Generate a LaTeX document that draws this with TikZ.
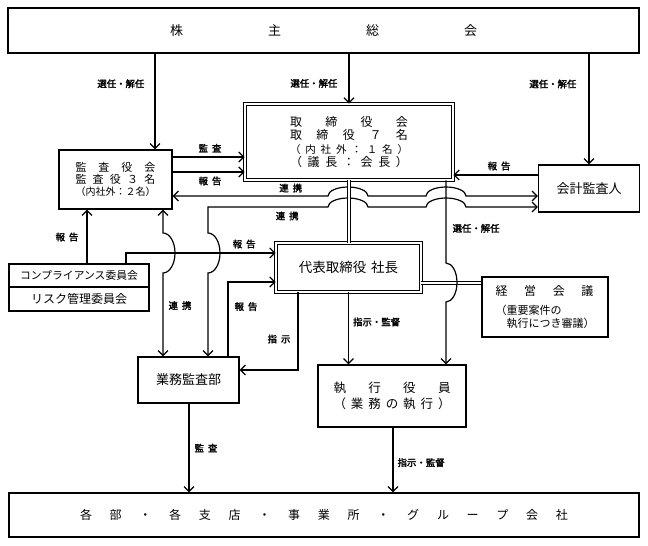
\documentclass[tikz,border=0pt]{standalone}
\usepackage{fontspec}
\setmainfont{Noto Sans CJK JP}
\newfontfamily\lblfont{Noto Sans CJK JP}[FakeBold=2.2]
\usetikzlibrary{arrows.meta}
\newcommand{\lblgap}{\hspace{4pt}}

\begin{document}
\begin{tikzpicture}[x=1pt, y=-1pt,
  box/.style={draw, line width=1.2pt, inner sep=0pt, align=center},
  dbox/.style={draw, double, double distance=1.4pt, line width=0.9pt, inner sep=0pt, align=center},
  lbl/.style={font=\lblfont\fontsize{9.4}{10}\selectfont, inner sep=0pt},
  arr/.style={line width=1.2pt, -{Straight Barb[length=5pt,width=10pt]}},
  barr/.style={line width=1.2pt, {Straight Barb[length=5pt,width=10pt]}-{Straight Barb[length=5pt,width=10pt]}},
  dline/.style={double, double distance=1.6pt, line width=0.8pt}]

\useasboundingbox (0,0) rectangle (648,546);

\node[box, line width=2.5pt, minimum width=631pt, minimum height=45pt, font=\fontsize{13}{15}\selectfont] (agm) at (323.5,30.5)
  {\makebox[307pt]{株\hfill 主\hfill 総\hfill 会}};

\node[dbox, minimum width=208pt, minimum height=76pt, font=\fontsize{12}{13.3}\selectfont] (board) at (349,142)
  {\makebox[118pt]{取\hfill 締\hfill 役\hfill 会}\\
   \makebox[118pt]{取\hfill 締\hfill 役\hfill ７\hfill 名}\\
   \fontsize{10.5}{13.3}\selectfont\makebox[118pt]{（\hfill 内\hfill 社\hfill 外\hfill ：\hfill １\hfill 名\hfill ）}\\
   \makebox[118pt]{（\hfill 議\hfill 長\hfill ：\hfill 会\hfill 長\hfill ）}};

\node[box, minimum width=113pt, minimum height=59pt, font=\fontsize{11}{12}\selectfont] (audit) at (115.5,179.5)
  {\makebox[80pt]{監\hfill 査\hfill 役\hfill 会}\\
   \makebox[80pt]{監\hfill 査\hfill 役\hfill ３\hfill 名}\\
   \fontsize{10}{12}\selectfont\makebox[80pt]{（内社外：２名）}};

\node[box, minimum width=101pt, minimum height=47pt, font=\fontsize{13}{15}\selectfont] (auditor) at (589,188.5) {会計監査人};

\node[dbox, minimum width=145pt, minimum height=49pt, font=\fontsize{13.5}{15}\selectfont] (ceo) at (348.5,267.5) {代表取締役\hspace{5pt}社長};

\node[box, minimum width=126pt, minimum height=60pt, align=left, font=\fontsize{11}{13}\selectfont] (meeting) at (545,307)
  {{\fontsize{12}{13}\selectfont\makebox[98pt]{経\hfill 営\hfill 会\hfill 議}}\\[6pt]
   （重要案件の\\
   \hspace*{11pt}執行につき審議）};

\node[box, minimum width=148pt, minimum height=62pt, font=\fontsize{12.5}{16}\selectfont] (officers) at (392,396)
  {\makebox[117pt]{執\hfill 行\hfill 役\hfill 員}\\
   \makebox[117pt]{（\hfill 業\hfill 務\hfill の\hfill 執\hfill 行\hfill ）}};

\node[box, minimum width=101pt, minimum height=46pt, font=\fontsize{13}{15}\selectfont] (internal) at (188.5,380) {業務監査部};

\node[box, minimum width=140pt, minimum height=23pt, font=\fontsize{10.8}{12}\selectfont] (comp) at (79,275.5) {コンプライアンス委員会};
\node[box, minimum width=140pt, minimum height=24pt, font=\fontsize{12}{13}\selectfont] (risk) at (79,299) {リスク管理委員会};

\node[box, minimum width=630pt, minimum height=44pt, font=\fontsize{12}{14}\selectfont] (bottom) at (324,515)
  {\makebox[488pt]{各\hfill 部\hfill ・\hfill 各\hfill 支\hfill 店\hfill ・\hfill 事\hfill 業\hfill 所\hfill ・\hfill グ\hfill ル\hfill ー\hfill プ\hfill 会\hfill 社}};

% 株主総会から
\path[arr] (agm.south -| 155,0) edge node[lbl, left=10pt, pos=.31] {選任・解任} (audit.north -| 155,0);
\path[arr] (agm.south -| board.north) edge node[lbl, left=11pt, pos=.59] {選任・解任} (board.north);
\path[arr] (agm.south -| auditor.north) edge node[lbl, left=12pt, pos=.27] {選任・解任} (auditor.north);

% 監査役会と取締役会
\path[arr] (audit.east |- 0,157) edge node[lbl, above=4pt, pos=.52] {監\lblgap 査} (board.west |- 0,157);
\path[arr] (audit.east |- 0,172) edge node[lbl, below=4pt, pos=.52] {報\lblgap 告} (board.west |- 0,172);
\path[arr] (auditor.west |- 0,175) edge node[lbl, above=4pt, pos=.46] {報\lblgap 告} (board.east |- 0,175);

% 連携
\draw[barr] (audit.east |- 0,196) -- node[lbl, above=3pt, pos=.76] {連\lblgap 携} (328,196)
  arc[start angle=180, end angle=360, x radius=20, y radius=9] -- (426,196)
  arc[start angle=180, end angle=360, x radius=20, y radius=9] -- (auditor.west |- 0,196);
\draw[barr] (internal.north -| 208,0) -- (208,273)
  arc[start angle=90, end angle=-90, x radius=12, y radius=20] -- (208,207)
  -- node[lbl, below=4pt, pos=.66] {連\lblgap 携} (328,207)
  arc[start angle=180, end angle=360, x radius=20, y radius=9] -- (426,207)
  arc[start angle=180, end angle=360, x radius=20, y radius=9] -- (auditor.west |- 0,207);
\draw[barr] (audit.south -| 163,0) -- (163,233)
  arc[start angle=-90, end angle=90, x radius=12, y radius=20]
  -- node[lbl, right=5pt, pos=.39] {連\lblgap 携} (internal.north -| 163,0);

% 報告
\path[arr] (comp.north -| 87,0) edge node[lbl, left=8pt, pos=.49] {報\lblgap 告} (audit.south -| 87,0);
\draw[arr] (comp.north -| 126,0) -- (126,253) -- node[lbl, above=4pt, pos=.79] {報\lblgap 告} (ceo.west |- 0,253);
\draw[arr] (internal.north -| 228,0) -- node[lbl, right=6pt, pos=.67] {報\lblgap 告} (228,282) -- (ceo.west |- 0,282);
\draw[arr] (ceo.south -| 298,0) -- node[lbl, left=7pt, pos=.6] {指\lblgap 示} (298,370) -- (internal.east |- 0,370);

% 取締役会・代表取締役・経営会議
\draw[dline] (board.south) -- (board.south |- ceo.north);
\draw[dline] (ceo.east |- 0,283) -- (meeting.west |- 0,283);
\draw[arr] (board.south -| 446,0) -- node[lbl, right=6pt, pos=.58] {選任・解任} (446,263)
  arc[start angle=-90, end angle=90, x radius=11, y radius=19.5] -- (officers.north -| 446,0);
\path[arr] (ceo.south) edge node[lbl, right=4pt, pos=.41] {指示・監督} (ceo.south |- officers.north);

% 各部へ
\path[arr] (internal.south -| 189,0) edge node[lbl, right=5pt, pos=.5] {監\lblgap 査} (bottom.north -| 189,0);
\path[arr] (officers.south -| 393,0) edge node[lbl, right=4pt, pos=.54] {指示・監督} (bottom.north -| 393,0);

\end{tikzpicture}
\end{document}
